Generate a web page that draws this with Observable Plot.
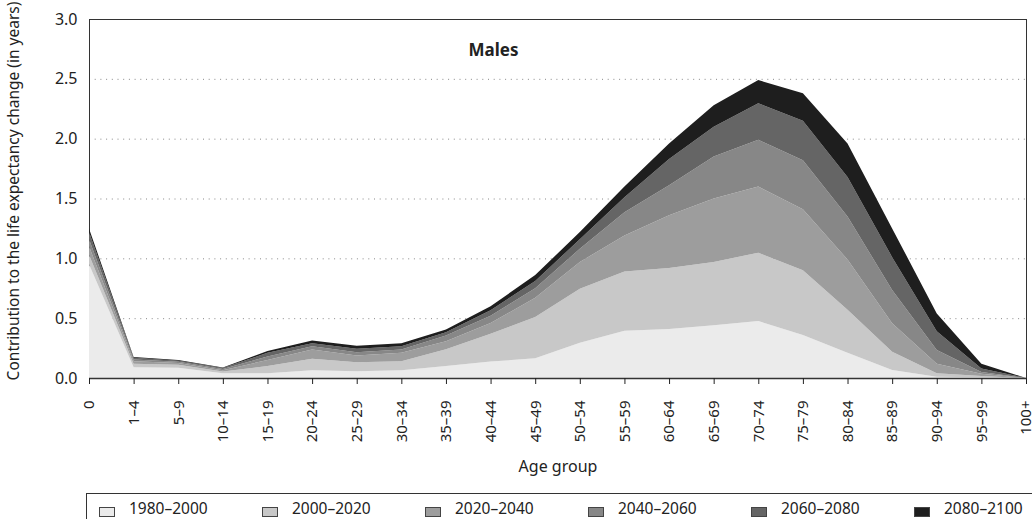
<!DOCTYPE html>
<html>
<head>
<meta charset="utf-8">
<script src="https://cdn.jsdelivr.net/npm/d3@7"></script>
<script src="https://cdn.jsdelivr.net/npm/@observablehq/plot@0.6"></script>
<style>
  body { margin: 0; background: #fff; font-family: "Noto Sans", sans-serif; color: #222; }
  #wrap { position: relative; width: 1032px; height: 519px; overflow: hidden; }
  #chart { position: absolute; left: 0; top: 0; }
  #legend { position: absolute; left: 86px; top: 493px; width: 1000px; height: 40px; border: 1px solid #333; box-sizing: border-box; }
  .sw { position: absolute; width: 14px; height: 8px; border: 1px solid #444; box-sizing: content-box; }
  .lt { position: absolute; font-size: 15.5px; line-height: 16px; white-space: nowrap; }
</style>
</head>
<body>
<div id="wrap">
  <div id="chart"></div>
  <div id="legend"></div>
</div>
<script>
const ages = ["0","1–4","5–9","10–14","15–19","20–24","25–29","30–34","35–39","40–44","45–49","50–54","55–59","60–64","65–69","70–74","75–79","80–84","85–89","90–94","95–99","100+"];
const periods = ["1980–2000","2000–2020","2020–2040","2040–2060","2060–2080","2080–2100"];
const colors = ["#ebebeb","#c8c8c8","#9d9d9d","#878787","#656565","#1e1e1e"];

// contribution of each period, by age group
const v1980 = [0.95,0.09,0.085,0.04,0.04,0.065,0.057,0.065,0.10,0.137,0.165,0.295,0.395,0.41,0.44,0.476,0.36,0.21,0.067,0.01,0.006,0];
const v2000 = [0.08,0.03,0.025,0.015,0.06,0.095,0.075,0.075,0.14,0.233,0.345,0.45,0.495,0.51,0.53,0.571,0.54,0.36,0.153,0.03,0.011,0];
const v2020 = [0.07,0.02,0.015,0.01,0.05,0.078,0.056,0.07,0.068,0.09,0.16,0.225,0.30,0.44,0.53,0.553,0.51,0.42,0.237,0.08,0.018,0];
const v2040 = [0.06,0.015,0.01,0.01,0.03,0.027,0.028,0.028,0.047,0.06,0.08,0.11,0.195,0.25,0.35,0.39,0.41,0.36,0.278,0.114,0.015,0];
const v2060 = [0.06,0.015,0.01,0.008,0.03,0.025,0.028,0.028,0.028,0.046,0.06,0.08,0.125,0.22,0.25,0.305,0.33,0.33,0.275,0.156,0.03,0];
const v2080 = [0.03,0.005,0.005,0.004,0.015,0.023,0.026,0.024,0.022,0.034,0.05,0.06,0.09,0.13,0.18,0.195,0.23,0.28,0.24,0.15,0.04,0];

const yTicks = [0, 0.5, 1, 1.5, 2, 2.5, 3];
const gridTicks = [0.5, 1, 1.5, 2, 2.5];
const title = "Males";
const xLabel = "Age group";
const yLabel = "Contribution to the life expectancy change (in years)";

const seriesValues = [v1980, v2000, v2020, v2040, v2060, v2080];
const rows = periods.flatMap((p, s) => ages.map((a, i) => ({age: a, period: p, value: seriesValues[s][i]})));

const chart = Plot.plot({
  width: 1032,
  height: 486,
  marginLeft: 89,
  marginRight: 6,
  marginTop: 19,
  marginBottom: 108,
  style: {fontFamily: "Noto Sans", fontSize: "16px", color: "#222", background: "white"},
  x: {type: "point", domain: ages, padding: 0, round: false},
  y: {domain: [0, 3]},
  color: {domain: periods, range: colors},
  marks: [
    Plot.gridY(gridTicks, {stroke: "#888", strokeOpacity: 1, strokeDasharray: "1,4.7"}),
    Plot.frame({stroke: "#333"}),
    Plot.areaY(rows, {x: "age", y: "value", fill: "period", z: "period", order: periods}),
    Plot.ruleY([0], {stroke: "#333", strokeWidth: 1.5}),
    Plot.axisX({tickRotate: -90, tickSize: 6, tickPadding: 16, fontSize: 15, label: null}),
    Plot.axisY(yTicks, {tickSize: 0, tickPadding: 12, tickFormat: d3.format(".1f"), label: null}),
    Plot.text([xLabel], {text: d => d, frameAnchor: "bottom", dy: 88, textAnchor: "middle", lineAnchor: "middle", fontSize: 16}),
    Plot.text([yLabel], {text: d => d, frameAnchor: "left", rotate: -90, dx: -75, dy: -8, textAnchor: "middle", lineAnchor: "middle", fontSize: 15.5}),
    Plot.text([title], {text: d => d, frameAnchor: "top-left", dx: 379, dy: 31, textAnchor: "start", lineAnchor: "middle", fontWeight: "bold", fontSize: 17})
  ]
});
document.getElementById("chart").appendChild(chart);

// legend
const legend = document.getElementById("legend");
const legLeft = 86;
periods.forEach((p, i) => {
  const x0 = 98 + i * 163 - legLeft;
  const sw = document.createElement("div");
  sw.className = "sw";
  sw.style.left = x0 + "px";
  sw.style.top = (507 - 494) + "px";
  sw.style.background = colors[i];
  legend.appendChild(sw);
  const t = document.createElement("div");
  t.className = "lt";
  t.style.left = (x0 + 30) + "px";
  t.style.top = (500 - 494) + "px";
  t.textContent = p;
  legend.appendChild(t);
});
</script>
</body>
</html>
